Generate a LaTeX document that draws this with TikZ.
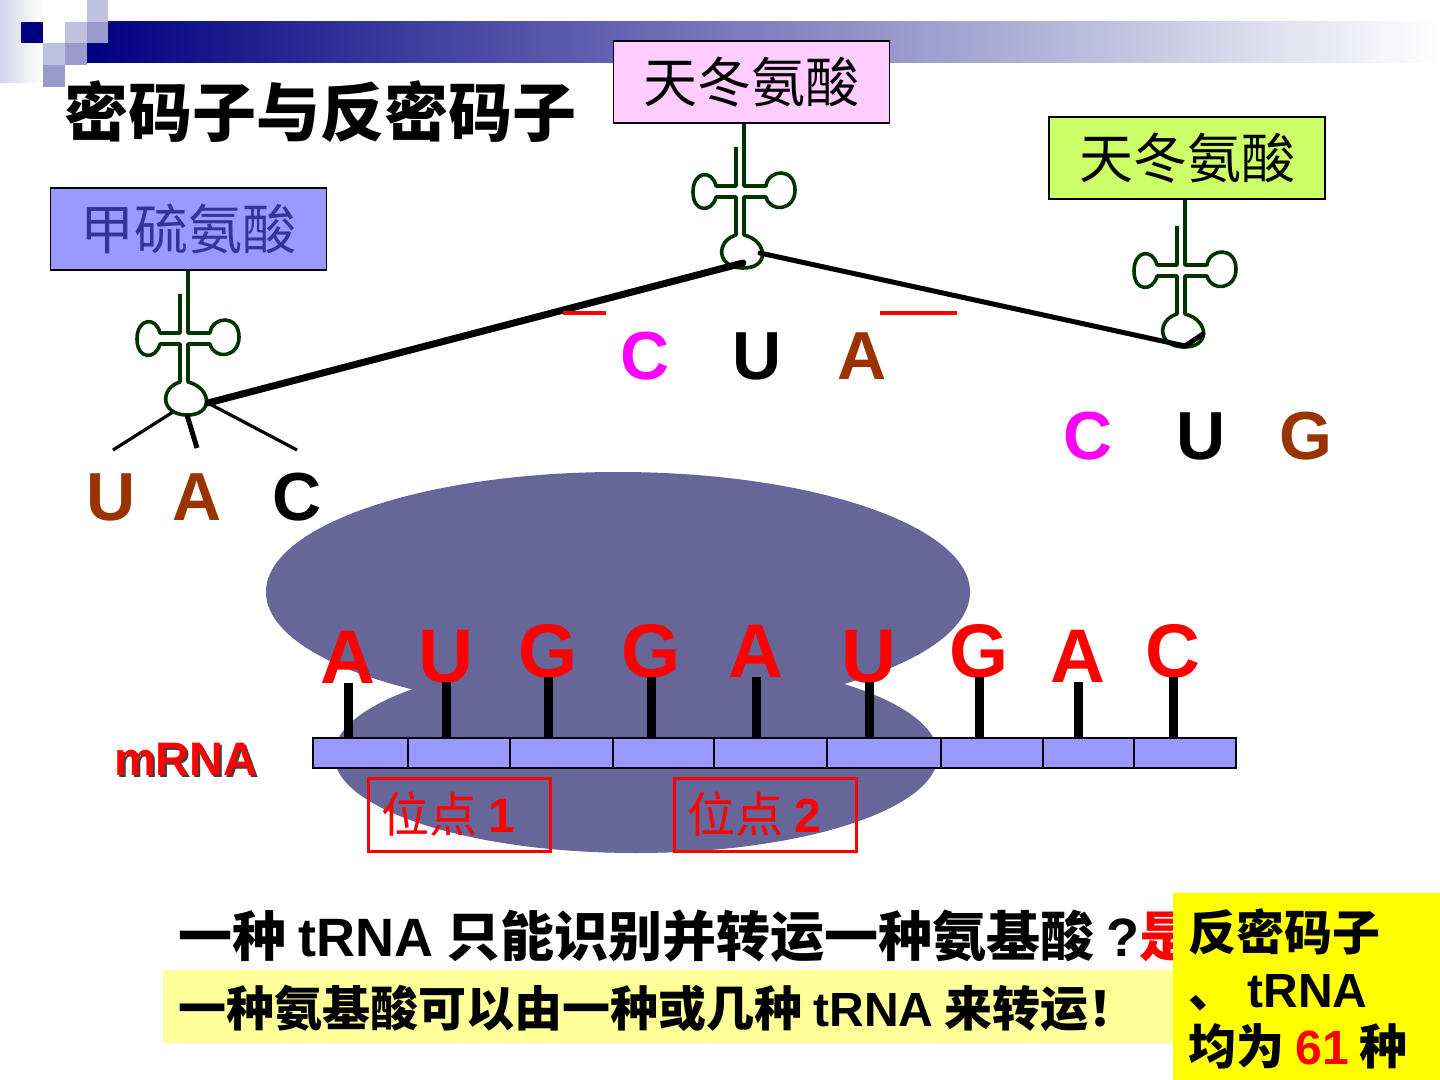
\documentclass[tikz,border=0pt]{standalone}
\usepackage{fontspec}
\setmainfont{Liberation Sans}
\newfontfamily\cjk{Noto Sans CJK SC}
\newfontfamily\latb{Liberation Sans Bold}
\newcommand{\en}[1]{{\latb\mdseries #1}}

\definecolor{barnavy}{RGB}{0,0,128}
\definecolor{lav}{RGB}{192,192,224}
\definecolor{lavmid}{RGB}{153,153,204}
\definecolor{ribo}{RGB}{102,102,153}
\definecolor{mbar}{RGB}{153,153,255}
\definecolor{cloverg}{RGB}{0,51,0}
\definecolor{brownbase}{RGB}{153,51,0}
\definecolor{magbase}{RGB}{255,0,255}
\definecolor{metbox}{RGB}{153,153,255}
\definecolor{metfont}{RGB}{51,51,153}
\definecolor{pinkbox}{RGB}{255,204,255}
\definecolor{limebox}{RGB}{204,255,102}
\definecolor{paleyel}{RGB}{255,255,153}
\definecolor{sumyel}{RGB}{255,255,0}

\begin{document}
\begin{tikzpicture}[x=0.5pt,y=-0.5pt,
		aabox/.style={draw=black,line width=0.6pt,minimum width=138pt,minimum height=41pt,inner sep=0pt,font=\cjk\fontsize{27}{27}\selectfont},
		clover/.style={draw=cloverg,line width=1.8pt,line join=round},
		base/.style={font=\bfseries\fontsize{34}{34}\selectfont},
		mbase/.style={anchor=base,text=red,font=\bfseries\fontsize{38}{38}\selectfont},
		stem/.style={line width=4.5pt},
		cell/.style={draw=black,line width=0.6pt,fill=mbar},
		site/.style={draw=red,line width=1.5pt,text=red,minimum width=91pt,minimum height=36.5pt,inner sep=0pt,font=\cjk\fontsize{24}{24}\selectfont},
		bond/.style={line width=3.5pt,line cap=round},
		leg/.style={line width=1.6pt},
		note/.style={anchor=west,inner sep=0pt,font=\cjk\bfseries\fontsize{27}{27}\selectfont}]
	\useasboundingbox (0,0) rectangle (1440,1080);

	% title band and corner squares
	\shade[left color=lav!70!white,right color=white] (0,0) rectangle (43,83);
	\shade[left color=barnavy,right color=white] (87,22) rectangle (1440,63);
	\fill[barnavy] (21,22) rectangle (43,43);
	\fill[lav] (65,22) rectangle (87,43);
	\fill[lav] (87,0) rectangle (108,22);
	\fill[lavmid] (87,22) rectangle (108,43);
	\fill[lav] (43,43) rectangle (65,65);
	\fill[lavmid] (65,43) rectangle (87,65);
	\fill[lavmid] (43,65) rectangle (65,87);
	\node[font=\cjk\bfseries\fontsize{32}{32}\selectfont] (title) at (320,112) {密码子与反密码子};

	% ribosome
	\fill[ribo] (618,592) ellipse [x radius=176pt,y radius=60pt];
	\fill[ribo] (636,755) ellipse [x radius=151pt,y radius=49pt];

	% mRNA
	\foreach \a/\b in {313/408,408/510,510/613,613/714,714/827,827/941,941/1043,1043/1134,1134/1236}
		\draw[cell] (\a,738) rectangle (\b,768);
	\foreach \x/\y/\l [count=\i] in {348/683/A,446/682/U,548/677/G,651/677/G,756/677/A,869/682/U,979/677/G,1078/682/A,1173/677/C}{
		\node[mbase] (b\i) at (\x,\y) {\l};
		\draw[stem] (b\i.base) -- (\x,738);
	}
	\node[text=black!75,font=\bfseries\fontsize{23.5}{23.5}\selectfont] at (188,761) {mRNA};
	\node[text=red,font=\bfseries\fontsize{23.5}{23.5}\selectfont] (mrna) at (186,759) {mRNA};
	\node[site] (site1) at (459,814.5) {\hspace*{-11pt}位点 \en{1}};
	\node[site] (site2) at (765.5,814.5) {\hspace*{-11pt}位点 \en{2}};

	% tRNA
	\coordinate (cM) at (184,338);
	\coordinate (cD1) at (740,191);
	\coordinate (cD2) at (1181,270);
	\foreach \c in {cM,cD1,cD2}
		\draw[clover,shift={(\c)}] (4,-76) -- (4,-5) -- (26,-5)
			.. controls (28,-22) and (55,-24) .. (55,-1)
			.. controls (55,20) and (30,22) .. (26,6) -- (4,6) -- (4,44)
			.. controls (28,50) and (30,78) .. (2,77)
			.. controls (-24,76) and (-24,50) .. (-4,44) -- (-4,6) -- (-24,6)
			.. controls (-28,22) and (-47,22) .. (-47,1)
			.. controls (-47,-20) and (-28,-22) .. (-24,-5) -- (-4,-5) -- (-4,-44);

	\node[aabox,fill=metbox,text=metfont] (met) at (188.5,229) {甲硫氨酸};
	\node[aabox,fill=pinkbox] (asp1) at (751.5,82) {天冬氨酸};
	\node[aabox,fill=limebox] (asp2) at (1187,158) {天冬氨酸};

	% links between anticodons
	\coordinate (acM) at (208,403);
	\coordinate (acD1) at (743,263);
	\coordinate (acD1r) at (760,253);
	\coordinate (acD2) at (1185,346);
	\coordinate (acD2r) at (1203,334);
	\draw[bond] (acM) -- (acD1);
	\draw[bond,line width=2.5pt] (acD1r) -- (acD2) -- (acD2r);
	\draw[red,line width=2pt] (563,313) -- (606,313);
	\draw[red,line width=2pt] (880,313) -- (957,313);

	\coordinate (legU) at (173,412);
	\coordinate (legA) at (187,415);
	\coordinate (endU) at (113,450);
	\coordinate (endA) at (197,448);
	\coordinate (endC) at (297,450);
	\draw[leg] (legU) -- (endU);
	\draw[leg,line width=2.5pt] (legA) -- (endA);
	\draw[leg] (acM) -- (endC);

	\node[base,text=brownbase] (uL) at (111,497) {U};
	\node[base,text=brownbase] (aL) at (197,497) {A};
	\node[base] (cL) at (297,497) {C};
	\node[base,text=magbase] (cMid) at (645,356) {C};
	\node[base] (uMid) at (757,356) {U};
	\node[base,text=brownbase] (aMid) at (862,356) {A};
	\node[base,text=magbase] (cR) at (1088,436) {C};
	\node[base] (uR) at (1201,436) {U};
	\node[base,text=brownbase] (gR) at (1306,436) {G};

	% notes
	\fill[paleyel] (163,970) rectangle (1173,1043);
	\node[note] (q) at (178,936) {一种 \en{tRNA} 只能识别并转运一种氨基酸 \en{?}\textcolor{red}{是}};
	\node[note,font=\cjk\bfseries\fontsize{24}{24}\selectfont] (ans) at (178,1008) {一种氨基酸可以由一种或几种 \en{tRNA} 来转运！};
	\fill[sumyel] (1173,893) rectangle (1440,1080);
	\node[anchor=west,align=left,inner sep=0pt,font=\cjk\bfseries\fontsize{24}{28.5}\selectfont] (sum) at (1188,989) {反密码子\\、 \en{tRNA}\\均为 \en{\textcolor{red}{61}} 种};
\end{tikzpicture}
\end{document}
